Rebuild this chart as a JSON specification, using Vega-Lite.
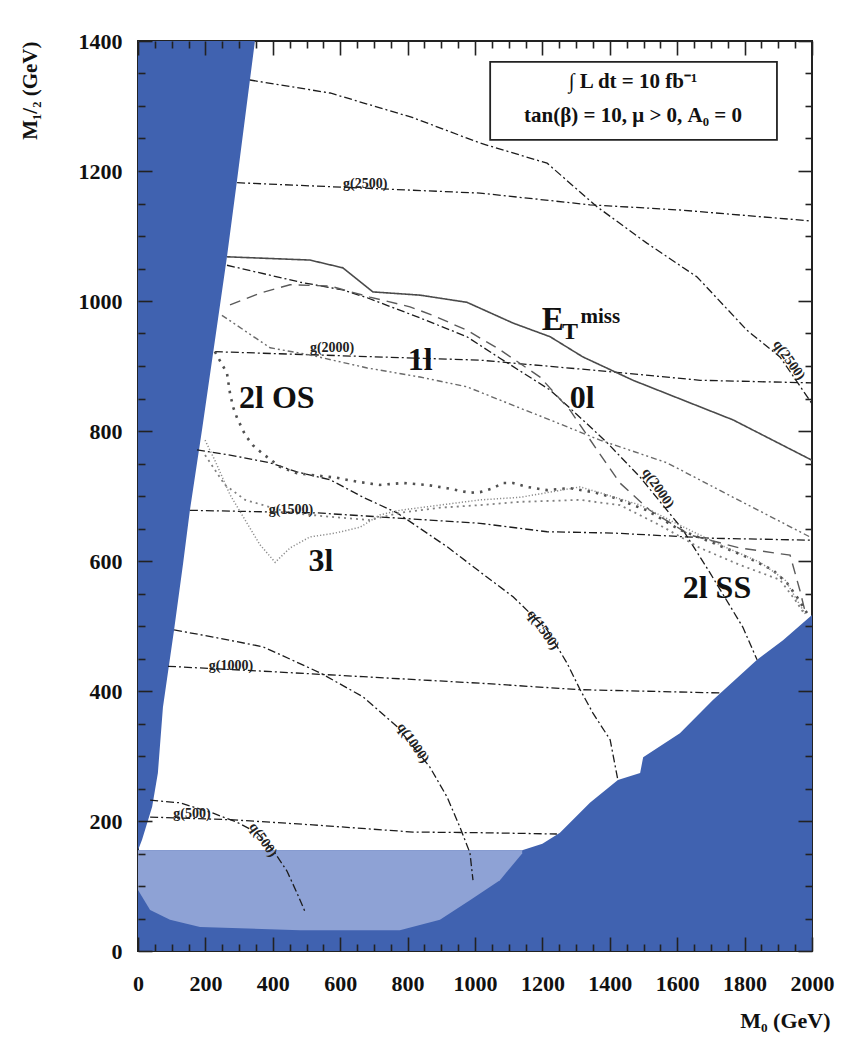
{
"$schema":"https://vega.github.io/schema/vega-lite/v6.json",
"width":674,"height":910,
"autosize":{"type":"none"},
"padding":{"left":138,"top":41,"right":38,"bottom":112},
"background":"white",
"config":{"font":"Liberation Serif","view":{"stroke":"#222","strokeWidth":2},
"axis":{"zindex":1,"grid":false,"domain":false,"tickColor":"#222","tickWidth":1.6,"labelFont":"Liberation Serif","labelFontWeight":"bold","labelFontSize":22,"labelColor":"#111","titleFont":"Liberation Serif","titleFontWeight":"bold","titleFontSize":21,"titleColor":"#111"}},
"datasets":{
"left":[{"m0":347,"m12":1400},{"m0":294,"m12":1186},{"m0":264,"m12":1068},{"m0":234,"m12":960},{"m0":190,"m12":802},{"m0":154,"m12":678},{"m0":134,"m12":597},{"m0":107,"m12":494},{"m0":74,"m12":375},{"m0":59,"m12":274},{"m0":42,"m12":222},{"m0":12,"m12":171},{"m0":0,"m12":155}],
"bottom":[{"m0":0,"m12":155},{"m0":1140,"m12":155},{"m0":1200,"m12":165},{"m0":1252,"m12":182},{"m0":1341,"m12":228},{"m0":1424,"m12":263},{"m0":1490,"m12":274},{"m0":1499,"m12":298},{"m0":1608,"m12":335},{"m0":1706,"m12":386},{"m0":1837,"m12":448},{"m0":1914,"m12":478},{"m0":2000,"m12":517}],
"hatch":[{"m0":0,"m12":155,"lo":94},{"m0":36,"m12":155,"lo":63},{"m0":95,"m12":155,"lo":48},{"m0":184,"m12":155,"lo":37},{"m0":481,"m12":155,"lo":32},{"m0":777,"m12":155,"lo":32},{"m0":896,"m12":155,"lo":48},{"m0":985,"m12":155,"lo":78},{"m0":1074,"m12":155,"lo":109},{"m0":1140,"m12":155,"lo":150}],
"curves":[
{"c":"g2500","t":"iso","i":0,"m0":294,"m12":1182},{"c":"g2500","t":"iso","i":1,"m0":1015,"m12":1166},{"c":"g2500","t":"iso","i":2,"m0":1341,"m12":1148},{"c":"g2500","t":"iso","i":3,"m0":1608,"m12":1140},{"c":"g2500","t":"iso","i":4,"m0":2000,"m12":1123},
{"c":"g2000","t":"iso","i":0,"m0":228,"m12":922},{"c":"g2000","t":"iso","i":1,"m0":1015,"m12":909},{"c":"g2000","t":"iso","i":2,"m0":1341,"m12":894},{"c":"g2000","t":"iso","i":3,"m0":1668,"m12":878},{"c":"g2000","t":"iso","i":4,"m0":2000,"m12":874},
{"c":"g1500","t":"iso","i":0,"m0":154,"m12":678},{"c":"g1500","t":"iso","i":1,"m0":531,"m12":674},{"c":"g1500","t":"iso","i":2,"m0":1015,"m12":658},{"c":"g1500","t":"iso","i":3,"m0":1214,"m12":645},{"c":"g1500","t":"iso","i":4,"m0":1409,"m12":643},{"c":"g1500","t":"iso","i":5,"m0":1706,"m12":635},{"c":"g1500","t":"iso","i":6,"m0":2000,"m12":632},
{"c":"g1000","t":"iso","i":0,"m0":89,"m12":438},{"c":"g1000","t":"iso","i":1,"m0":353,"m12":431},{"c":"g1000","t":"iso","i":2,"m0":668,"m12":422},{"c":"g1000","t":"iso","i":3,"m0":1015,"m12":412},{"c":"g1000","t":"iso","i":4,"m0":1312,"m12":402},{"c":"g1000","t":"iso","i":5,"m0":1727,"m12":397},
{"c":"g500","t":"iso","i":0,"m0":36,"m12":206},{"c":"g500","t":"iso","i":1,"m0":273,"m12":202},{"c":"g500","t":"iso","i":2,"m0":519,"m12":194},{"c":"g500","t":"iso","i":3,"m0":816,"m12":183},{"c":"g500","t":"iso","i":4,"m0":1015,"m12":182},{"c":"g500","t":"iso","i":5,"m0":1243,"m12":180},
{"c":"q2500","t":"iso","i":0,"m0":332,"m12":1340},{"c":"q2500","t":"iso","i":1,"m0":570,"m12":1320},{"c":"q2500","t":"iso","i":2,"m0":816,"m12":1282},{"c":"q2500","t":"iso","i":3,"m0":1015,"m12":1243},{"c":"q2500","t":"iso","i":4,"m0":1214,"m12":1212},{"c":"q2500","t":"iso","i":5,"m0":1362,"m12":1145},{"c":"q2500","t":"iso","i":6,"m0":1510,"m12":1089},{"c":"q2500","t":"iso","i":7,"m0":1659,"m12":1037},{"c":"q2500","t":"iso","i":8,"m0":1807,"m12":955},{"c":"q2500","t":"iso","i":9,"m0":1905,"m12":914},{"c":"q2500","t":"iso","i":10,"m0":2000,"m12":842},
{"c":"q2000","t":"iso","i":0,"m0":264,"m12":1055},{"c":"q2000","t":"iso","i":1,"m0":481,"m12":1029},{"c":"q2000","t":"iso","i":2,"m0":608,"m12":1017},{"c":"q2000","t":"iso","i":3,"m0":680,"m12":1005},{"c":"q2000","t":"iso","i":4,"m0":837,"m12":974},{"c":"q2000","t":"iso","i":5,"m0":976,"m12":945},{"c":"q2000","t":"iso","i":6,"m0":1074,"m12":912},{"c":"q2000","t":"iso","i":7,"m0":1223,"m12":863},{"c":"q2000","t":"iso","i":8,"m0":1320,"m12":817},{"c":"q2000","t":"iso","i":9,"m0":1392,"m12":782},{"c":"q2000","t":"iso","i":10,"m0":1490,"m12":729},{"c":"q2000","t":"iso","i":11,"m0":1617,"m12":648},{"c":"q2000","t":"iso","i":12,"m0":1697,"m12":582},{"c":"q2000","t":"iso","i":13,"m0":1795,"m12":498},{"c":"q2000","t":"iso","i":14,"m0":1837,"m12":448},
{"c":"q1500","t":"iso","i":0,"m0":175,"m12":771},{"c":"q1500","t":"iso","i":1,"m0":273,"m12":763},{"c":"q1500","t":"iso","i":2,"m0":392,"m12":751},{"c":"q1500","t":"iso","i":3,"m0":472,"m12":737},{"c":"q1500","t":"iso","i":4,"m0":570,"m12":725},{"c":"q1500","t":"iso","i":5,"m0":668,"m12":698},{"c":"q1500","t":"iso","i":6,"m0":769,"m12":674},{"c":"q1500","t":"iso","i":7,"m0":917,"m12":622},{"c":"q1500","t":"iso","i":8,"m0":1036,"m12":575},{"c":"q1500","t":"iso","i":9,"m0":1113,"m12":545},{"c":"q1500","t":"iso","i":10,"m0":1214,"m12":494},{"c":"q1500","t":"iso","i":11,"m0":1273,"m12":443},{"c":"q1500","t":"iso","i":12,"m0":1312,"m12":402},{"c":"q1500","t":"iso","i":13,"m0":1350,"m12":366},{"c":"q1500","t":"iso","i":14,"m0":1401,"m12":325},{"c":"q1500","t":"iso","i":15,"m0":1424,"m12":263},
{"c":"q1000","t":"iso","i":0,"m0":107,"m12":494},{"c":"q1000","t":"iso","i":1,"m0":223,"m12":483},{"c":"q1000","t":"iso","i":2,"m0":371,"m12":468},{"c":"q1000","t":"iso","i":3,"m0":540,"m12":428},{"c":"q1000","t":"iso","i":4,"m0":668,"m12":391},{"c":"q1000","t":"iso","i":5,"m0":769,"m12":345},{"c":"q1000","t":"iso","i":6,"m0":866,"m12":283},{"c":"q1000","t":"iso","i":7,"m0":917,"m12":237},{"c":"q1000","t":"iso","i":8,"m0":955,"m12":191},{"c":"q1000","t":"iso","i":9,"m0":985,"m12":151},{"c":"q1000","t":"iso","i":10,"m0":994,"m12":109},
{"c":"q500","t":"iso","i":0,"m0":36,"m12":232},{"c":"q500","t":"iso","i":1,"m0":125,"m12":228},{"c":"q500","t":"iso","i":2,"m0":223,"m12":212},{"c":"q500","t":"iso","i":3,"m0":294,"m12":198},{"c":"q500","t":"iso","i":4,"m0":353,"m12":182},{"c":"q500","t":"iso","i":5,"m0":401,"m12":155},{"c":"q500","t":"iso","i":6,"m0":442,"m12":123},{"c":"q500","t":"iso","i":7,"m0":472,"m12":89},{"c":"q500","t":"iso","i":8,"m0":496,"m12":60},
{"c":"met","t":"met","i":0,"m0":264,"m12":1068},{"c":"met","t":"met","i":1,"m0":510,"m12":1063},{"c":"met","t":"met","i":2,"m0":608,"m12":1051},{"c":"met","t":"met","i":3,"m0":697,"m12":1014},{"c":"met","t":"met","i":4,"m0":837,"m12":1009},{"c":"met","t":"met","i":5,"m0":976,"m12":998},{"c":"met","t":"met","i":6,"m0":1113,"m12":966},{"c":"met","t":"met","i":7,"m0":1223,"m12":945},{"c":"met","t":"met","i":8,"m0":1320,"m12":914},{"c":"met","t":"met","i":9,"m0":1469,"m12":878},{"c":"met","t":"met","i":10,"m0":1766,"m12":817},{"c":"met","t":"met","i":11,"m0":2000,"m12":755},
{"c":"0l","t":"0l","i":0,"m0":273,"m12":994},{"c":"0l","t":"0l","i":1,"m0":362,"m12":1012},{"c":"0l","t":"0l","i":2,"m0":451,"m12":1025},{"c":"0l","t":"0l","i":3,"m0":570,"m12":1023},{"c":"0l","t":"0l","i":4,"m0":688,"m12":1006},{"c":"0l","t":"0l","i":5,"m0":807,"m12":991},{"c":"0l","t":"0l","i":6,"m0":875,"m12":978},{"c":"0l","t":"0l","i":7,"m0":976,"m12":955},{"c":"0l","t":"0l","i":8,"m0":1074,"m12":925},{"c":"0l","t":"0l","i":9,"m0":1193,"m12":883},{"c":"0l","t":"0l","i":10,"m0":1282,"m12":832},{"c":"0l","t":"0l","i":11,"m0":1362,"m12":771},{"c":"0l","t":"0l","i":12,"m0":1430,"m12":720},{"c":"0l","t":"0l","i":13,"m0":1519,"m12":678},{"c":"0l","t":"0l","i":14,"m0":1638,"m12":640},{"c":"0l","t":"0l","i":15,"m0":1786,"m12":620},{"c":"0l","t":"0l","i":16,"m0":1935,"m12":609},{"c":"0l","t":"0l","i":17,"m0":1964,"m12":555},{"c":"0l","t":"0l","i":18,"m0":1982,"m12":517},
{"c":"1l","t":"1l","i":0,"m0":249,"m12":978},{"c":"1l","t":"1l","i":1,"m0":392,"m12":928},{"c":"1l","t":"1l","i":2,"m0":510,"m12":917},{"c":"1l","t":"1l","i":3,"m0":680,"m12":897},{"c":"1l","t":"1l","i":4,"m0":837,"m12":883},{"c":"1l","t":"1l","i":5,"m0":976,"m12":868},{"c":"1l","t":"1l","i":6,"m0":1125,"m12":837},{"c":"1l","t":"1l","i":7,"m0":1223,"m12":817},{"c":"1l","t":"1l","i":8,"m0":1371,"m12":786},{"c":"1l","t":"1l","i":9,"m0":1570,"m12":751},{"c":"1l","t":"1l","i":10,"m0":1766,"m12":698},{"c":"1l","t":"1l","i":11,"m0":1994,"m12":637},
{"c":"2los","t":"2los","i":0,"m0":228,"m12":922},{"c":"2los","t":"2los","i":1,"m0":264,"m12":889},{"c":"2los","t":"2los","i":2,"m0":273,"m12":858},{"c":"2los","t":"2los","i":3,"m0":282,"m12":837},{"c":"2los","t":"2los","i":4,"m0":294,"m12":820},{"c":"2los","t":"2los","i":5,"m0":318,"m12":794},{"c":"2los","t":"2los","i":6,"m0":341,"m12":778},{"c":"2los","t":"2los","i":7,"m0":368,"m12":766},{"c":"2los","t":"2los","i":8,"m0":421,"m12":745},{"c":"2los","t":"2los","i":9,"m0":472,"m12":735},{"c":"2los","t":"2los","i":10,"m0":590,"m12":728},{"c":"2los","t":"2los","i":11,"m0":650,"m12":722},{"c":"2los","t":"2los","i":12,"m0":718,"m12":717},{"c":"2los","t":"2los","i":13,"m0":786,"m12":720},{"c":"2los","t":"2los","i":14,"m0":858,"m12":717},{"c":"2los","t":"2los","i":15,"m0":917,"m12":712},{"c":"2los","t":"2los","i":16,"m0":985,"m12":705},{"c":"2los","t":"2los","i":17,"m0":1015,"m12":706},{"c":"2los","t":"2los","i":18,"m0":1053,"m12":712},{"c":"2los","t":"2los","i":19,"m0":1083,"m12":720},{"c":"2los","t":"2los","i":20,"m0":1113,"m12":720},{"c":"2los","t":"2los","i":21,"m0":1154,"m12":714},{"c":"2los","t":"2los","i":22,"m0":1214,"m12":709},{"c":"2los","t":"2los","i":23,"m0":1282,"m12":712},{"c":"2los","t":"2los","i":24,"m0":1350,"m12":706},{"c":"2los","t":"2los","i":25,"m0":1409,"m12":698},{"c":"2los","t":"2los","i":26,"m0":1510,"m12":678},{"c":"2los","t":"2los","i":27,"m0":1608,"m12":648},{"c":"2los","t":"2los","i":28,"m0":1706,"m12":628},{"c":"2los","t":"2los","i":29,"m0":1807,"m12":606},{"c":"2los","t":"2los","i":30,"m0":1884,"m12":586},{"c":"2los","t":"2los","i":31,"m0":1926,"m12":566},{"c":"2los","t":"2los","i":32,"m0":1955,"m12":545},{"c":"2los","t":"2los","i":33,"m0":1985,"m12":520},
{"c":"2lss","t":"2lss","i":0,"m0":199,"m12":763},{"c":"2lss","t":"2lss","i":1,"m0":258,"m12":717},{"c":"2lss","t":"2lss","i":2,"m0":318,"m12":694},{"c":"2lss","t":"2lss","i":3,"m0":451,"m12":674},{"c":"2lss","t":"2lss","i":4,"m0":570,"m12":668},{"c":"2lss","t":"2lss","i":5,"m0":688,"m12":663},{"c":"2lss","t":"2lss","i":6,"m0":777,"m12":674},{"c":"2lss","t":"2lss","i":7,"m0":896,"m12":682},{"c":"2lss","t":"2lss","i":8,"m0":1015,"m12":686},{"c":"2lss","t":"2lss","i":9,"m0":1134,"m12":691},{"c":"2lss","t":"2lss","i":10,"m0":1312,"m12":694},{"c":"2lss","t":"2lss","i":11,"m0":1430,"m12":686},{"c":"2lss","t":"2lss","i":12,"m0":1549,"m12":655},{"c":"2lss","t":"2lss","i":13,"m0":1668,"m12":620},{"c":"2lss","t":"2lss","i":14,"m0":1786,"m12":594},{"c":"2lss","t":"2lss","i":15,"m0":1905,"m12":571},{"c":"2lss","t":"2lss","i":16,"m0":1950,"m12":540},{"c":"2lss","t":"2lss","i":17,"m0":1979,"m12":517},
{"c":"3l","t":"3l","i":0,"m0":199,"m12":786},{"c":"3l","t":"3l","i":1,"m0":228,"m12":755},{"c":"3l","t":"3l","i":2,"m0":273,"m12":702},{"c":"3l","t":"3l","i":3,"m0":318,"m12":663},{"c":"3l","t":"3l","i":4,"m0":362,"m12":625},{"c":"3l","t":"3l","i":5,"m0":407,"m12":598},{"c":"3l","t":"3l","i":6,"m0":451,"m12":620},{"c":"3l","t":"3l","i":7,"m0":510,"m12":637},{"c":"3l","t":"3l","i":8,"m0":585,"m12":643},{"c":"3l","t":"3l","i":9,"m0":659,"m12":652},{"c":"3l","t":"3l","i":10,"m0":718,"m12":671},{"c":"3l","t":"3l","i":11,"m0":777,"m12":678},{"c":"3l","t":"3l","i":12,"m0":896,"m12":686},{"c":"3l","t":"3l","i":13,"m0":1015,"m12":694},{"c":"3l","t":"3l","i":14,"m0":1134,"m12":698},{"c":"3l","t":"3l","i":15,"m0":1223,"m12":706},{"c":"3l","t":"3l","i":16,"m0":1312,"m12":714},{"c":"3l","t":"3l","i":17,"m0":1371,"m12":705},{"c":"3l","t":"3l","i":18,"m0":1490,"m12":686},{"c":"3l","t":"3l","i":19,"m0":1608,"m12":655},{"c":"3l","t":"3l","i":20,"m0":1727,"m12":625},{"c":"3l","t":"3l","i":21,"m0":1846,"m12":598},{"c":"3l","t":"3l","i":22,"m0":1920,"m12":571},{"c":"3l","t":"3l","i":23,"m0":1955,"m12":540},{"c":"3l","t":"3l","i":24,"m0":1982,"m12":517}
],
"labels":[
{"k":"g","txt":"g(2500)","m0":674,"m12":1180},{"k":"g","txt":"g(2000)","m0":576,"m12":928},{"k":"g","txt":"g(1500)","m0":454,"m12":678},{"k":"g","txt":"g(1000)","m0":276,"m12":438},{"k":"g","txt":"g(500)","m0":160,"m12":211},
{"k":"q","txt":"q(2500)","m0":1932,"m12":909},{"k":"q","txt":"q(2000)","m0":1543,"m12":712},{"k":"q","txt":"q(1500)","m0":1202,"m12":494},{"k":"q","txt":"q(1000)","m0":816,"m12":320},{"k":"q","txt":"q(500)","m0":371,"m12":171},
{"k":"big","txt":"1l","m0":837,"m12":909},{"k":"big","txt":"2l OS","m0":412,"m12":851},{"k":"big","txt":"0l","m0":1318,"m12":851},{"k":"big","txt":"3l","m0":543,"m12":600},{"k":"big","txt":"2l SS","m0":1718,"m12":558},
{"k":"E","txt":"E","m0":1231,"m12":971},{"k":"sub","txt":"T","m0":1282,"m12":952},{"k":"sup","txt":"miss","m0":1372,"m12":976},
{"k":"box","txt":"∫ L dt = 10 fb⁻¹","m0":1469,"m12":1337},{"k":"box","txt":"tan(β) = 10, μ > 0, A₀ = 0","m0":1469,"m12":1285}
],
"box":[{"m0":1045,"x2":1896,"m12":1368,"y2":1248}]
},
"encoding":{
"x":{"field":"m0","type":"quantitative","scale":{"domain":[0,2000],"nice":false,"zero":false},"axis":null},
"y":{"field":"m12","type":"quantitative","scale":{"domain":[0,1400],"nice":false,"zero":false},"axis":null}
},
"layer":[
{"data":{"name":"left"},"mark":{"type":"area","orient":"horizontal","color":"#4062b0","opacity":1},
"encoding":{
"x":{"field":"m0","type":"quantitative","scale":{"domain":[0,2000],"nice":false,"zero":false},
"axis":{"orient":"bottom","zindex":2,"values":[0,50,100,150,200,250,300,350,400,450,500,550,600,650,700,750,800,850,900,950,1000,1050,1100,1150,1200,1250,1300,1350,1400,1450,1500,1550,1600,1650,1700,1750,1800,1850,1900,1950,2000],"format":"d","labelExpr":"datum.value % 200 === 0 ? datum.label : ''","tickSize":{"condition":{"test":"datum.value % 200 === 0","value":-14},"value":-7},"labelPadding":36,"labelFlush":false,"labelOverlap":false,"title":"M₀ (GeV)","titleFontSize":22,"titleAnchor":"end","titleAlign":"right","titleBaseline":"middle","titleX":692,"titleY":69}},
"x2":{"datum":0},
"y":{"field":"m12","type":"quantitative","scale":{"domain":[0,1400],"nice":false,"zero":false},
"axis":{"orient":"left","zindex":2,"values":[0,50,100,150,200,250,300,350,400,450,500,550,600,650,700,750,800,850,900,950,1000,1050,1100,1150,1200,1250,1300,1350,1400],"format":"d","labelExpr":"datum.value % 200 === 0 ? datum.label : ''","tickSize":{"condition":{"test":"datum.value % 200 === 0","value":-14},"value":-7},"labelPadding":30,"labelOverlap":false,"labelFlush":false,"title":"M₁/₂ (GeV)","titleFontSize":21,"titleAnchor":"end","titleAngle":-90,"titleAlign":"right","titleBaseline":"middle","titleX":-108,"titleY":0}}}},
{"data":{"name":"bottom"},"mark":{"type":"area","color":"#4062b0","opacity":1},"encoding":{"y2":{"datum":0}}},
{"data":{"name":"hatch"},"mark":{"type":"area","color":"#8ea2d5","opacity":1},"encoding":{"y2":{"field":"lo"}}},
{"data":{"name":"curves"},"mark":{"type":"line","strokeCap":"butt","clip":true},
"encoding":{"detail":{"field":"c","type":"nominal"},"order":{"field":"i","type":"quantitative"},
"color":{"field":"t","type":"nominal","scale":{"domain":["iso","met","0l","1l","2los","2lss","3l"],"range":["#1c1c1c","#4a4a4a","#5a5a5a","#6a6a6a","#505050","#808080","#8c8c8c"]},"legend":null},
"strokeDash":{"field":"t","type":"nominal","scale":{"domain":["iso","met","0l","1l","2los","2lss","3l"],"range":[[8,3,2,3],[1,0],[11,7],[6,3,2,3,2,3],[2.5,6],[2,4],[1.2,2]]},"legend":null},
"strokeWidth":{"field":"t","type":"nominal","scale":{"type":"ordinal","domain":["iso","met","0l","1l","2los","2lss","3l"],"range":[1.3,1.6,1.4,1.4,2.6,1.8,1.5]},"legend":null}}},
{"data":{"name":"labels"},"transform":[{"filter":"datum.k === 'g'"}],"mark":{"type":"text","fontSize":14,"fontWeight":"bold","color":"#222","align":"center","baseline":"middle"},"encoding":{"text":{"field":"txt"}}},
{"data":{"name":"labels"},"transform":[{"filter":"datum.k === 'q'"}],"mark":{"type":"text","fontSize":14,"fontWeight":"bold","color":"#222","angle":55,"align":"center","baseline":"middle"},"encoding":{"text":{"field":"txt"}}},
{"data":{"name":"labels"},"transform":[{"filter":"datum.k === 'big'"}],"mark":{"type":"text","fontSize":32,"fontWeight":"bold","color":"#111","align":"center","baseline":"middle"},"encoding":{"text":{"field":"txt"}}},
{"data":{"name":"labels"},"transform":[{"filter":"datum.k === 'E'"}],"mark":{"type":"text","fontSize":33,"fontWeight":"bold","color":"#111","align":"center","baseline":"middle"},"encoding":{"text":{"field":"txt"}}},
{"data":{"name":"labels"},"transform":[{"filter":"datum.k === 'sub'"}],"mark":{"type":"text","fontSize":24,"fontWeight":"bold","color":"#111","align":"center","baseline":"middle"},"encoding":{"text":{"field":"txt"}}},
{"data":{"name":"labels"},"transform":[{"filter":"datum.k === 'sup'"}],"mark":{"type":"text","fontSize":21,"fontWeight":"bold","color":"#111","align":"center","baseline":"middle"},"encoding":{"text":{"field":"txt"}}},
{"data":{"name":"box"},"mark":{"type":"rect","fill":"white","stroke":"#222","strokeWidth":1.8},
"encoding":{
"x":{"field":"m0","type":"quantitative","scale":{"domain":[0,2000],"nice":false,"zero":false},
"axis":{"orient":"top","zindex":2,"values":[0,50,100,150,200,250,300,350,400,450,500,550,600,650,700,750,800,850,900,950,1000,1050,1100,1150,1200,1250,1300,1350,1400,1450,1500,1550,1600,1650,1700,1750,1800,1850,1900,1950,2000],"labels":false,"title":null,"tickSize":{"condition":{"test":"datum.value % 200 === 0","value":-14},"value":-7}}},
"x2":{"field":"x2"},
"y":{"field":"m12","type":"quantitative","scale":{"domain":[0,1400],"nice":false,"zero":false},
"axis":{"orient":"right","zindex":2,"values":[0,50,100,150,200,250,300,350,400,450,500,550,600,650,700,750,800,850,900,950,1000,1050,1100,1150,1200,1250,1300,1350,1400],"labels":false,"title":null,"tickSize":{"condition":{"test":"datum.value % 200 === 0","value":-14},"value":-7}}},
"y2":{"field":"y2"}}},
{"data":{"name":"labels"},"transform":[{"filter":"datum.k === 'box'"}],"mark":{"type":"text","fontSize":21,"fontWeight":"bold","color":"#111","align":"center","baseline":"middle"},"encoding":{"text":{"field":"txt"}}}
],
"resolve":{"axis":{"x":"independent","y":"independent"}}
}
